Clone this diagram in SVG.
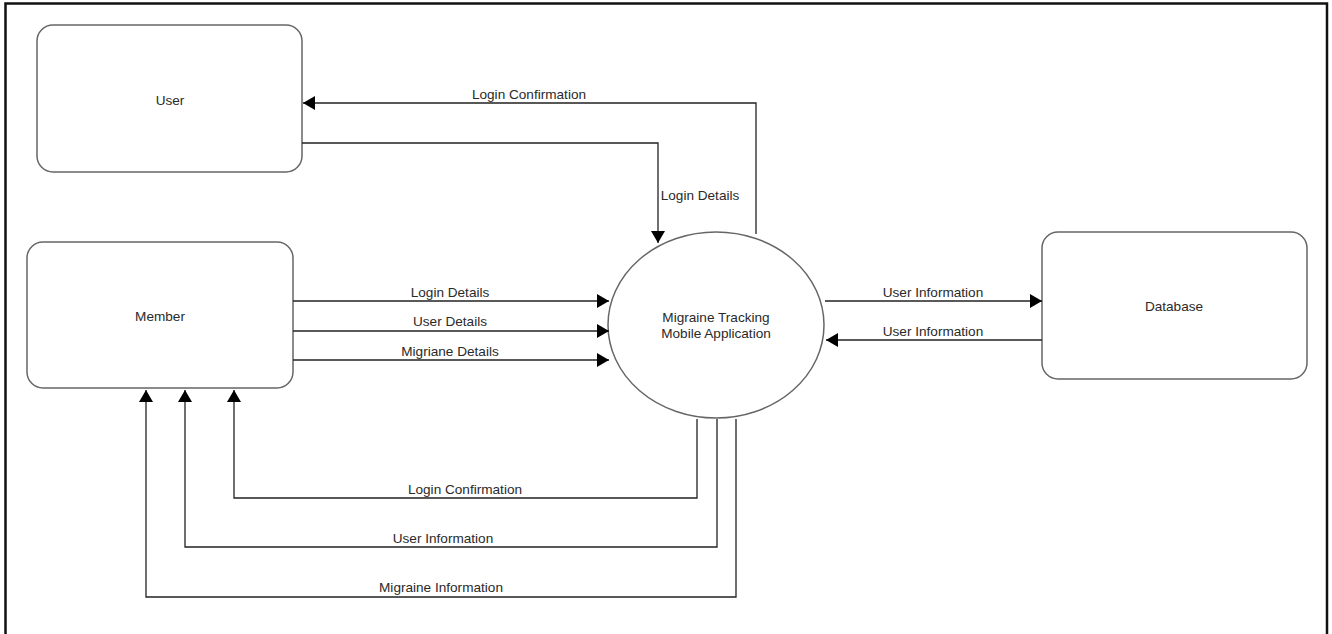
<svg xmlns="http://www.w3.org/2000/svg" width="1332" height="634" viewBox="0 0 1332 634">
<defs>
<style>
.box{fill:#fff;stroke:#666;stroke-width:1.5}
.lbl{font-family:"Liberation Sans",Arial,sans-serif;font-size:13.6px;fill:#2a2a2a;text-anchor:middle}
.ln{fill:none;stroke:#222;stroke-width:1.3}
</style>
<marker id="ah" markerUnits="userSpaceOnUse" markerWidth="12" markerHeight="14" refX="12" refY="7" orient="auto">
<path d="M0,0 L12,7 L0,14 Z" fill="#000"/>
</marker>
</defs>
<rect x="0" y="0" width="1332" height="634" fill="#fff"/>
<rect x="5.5" y="3.5" width="1321.5" height="660" fill="none" stroke="#111" stroke-width="2.5"/>
<g id="user">
<rect class="box" x="37" y="25" width="265" height="147" rx="16"/>
<text class="lbl" x="170" y="105">User</text>
</g>
<g id="member">
<rect class="box" x="27" y="242" width="266" height="146" rx="16"/>
<text class="lbl" x="160" y="321">Member</text>
</g>
<g id="process">
<ellipse class="box" cx="716" cy="325" rx="108" ry="93"/>
<text class="lbl" x="716" y="322">Migraine Tracking</text>
<text class="lbl" x="716" y="338">Mobile Application</text>
</g>
<g id="database">
<rect class="box" x="1042" y="232" width="265" height="147" rx="16"/>
<text class="lbl" x="1174" y="311">Database</text>
</g>
<g id="connectors">
<path class="ln" d="M756,234 V103 H303" marker-end="url(#ah)"/>
<text class="lbl" x="529" y="99">Login Confirmation</text>
<path class="ln" d="M302,143 H658 V243" marker-end="url(#ah)"/>
<text class="lbl" x="700" y="200">Login Details</text>
<path class="ln" d="M293,301 H609" marker-end="url(#ah)"/>
<text class="lbl" x="450" y="297">Login Details</text>
<path class="ln" d="M293,331 H609" marker-end="url(#ah)"/>
<text class="lbl" x="450" y="326">User Details</text>
<path class="ln" d="M293,360 H609" marker-end="url(#ah)"/>
<text class="lbl" x="450" y="356">Migriane Details</text>
<path class="ln" d="M825,301 H1042" marker-end="url(#ah)"/>
<text class="lbl" x="933" y="297">User Information</text>
<path class="ln" d="M1042,340 H826" marker-end="url(#ah)"/>
<text class="lbl" x="933" y="336">User Information</text>
<path class="ln" d="M697,419 V498 H234 V390" marker-end="url(#ah)"/>
<text class="lbl" x="465" y="494">Login Confirmation</text>
<path class="ln" d="M717,419 V547 H185 V390" marker-end="url(#ah)"/>
<text class="lbl" x="443" y="543">User Information</text>
<path class="ln" d="M736,419 V597 H146 V390" marker-end="url(#ah)"/>
<text class="lbl" x="441" y="592">Migraine Information</text>
</g>
</svg>
